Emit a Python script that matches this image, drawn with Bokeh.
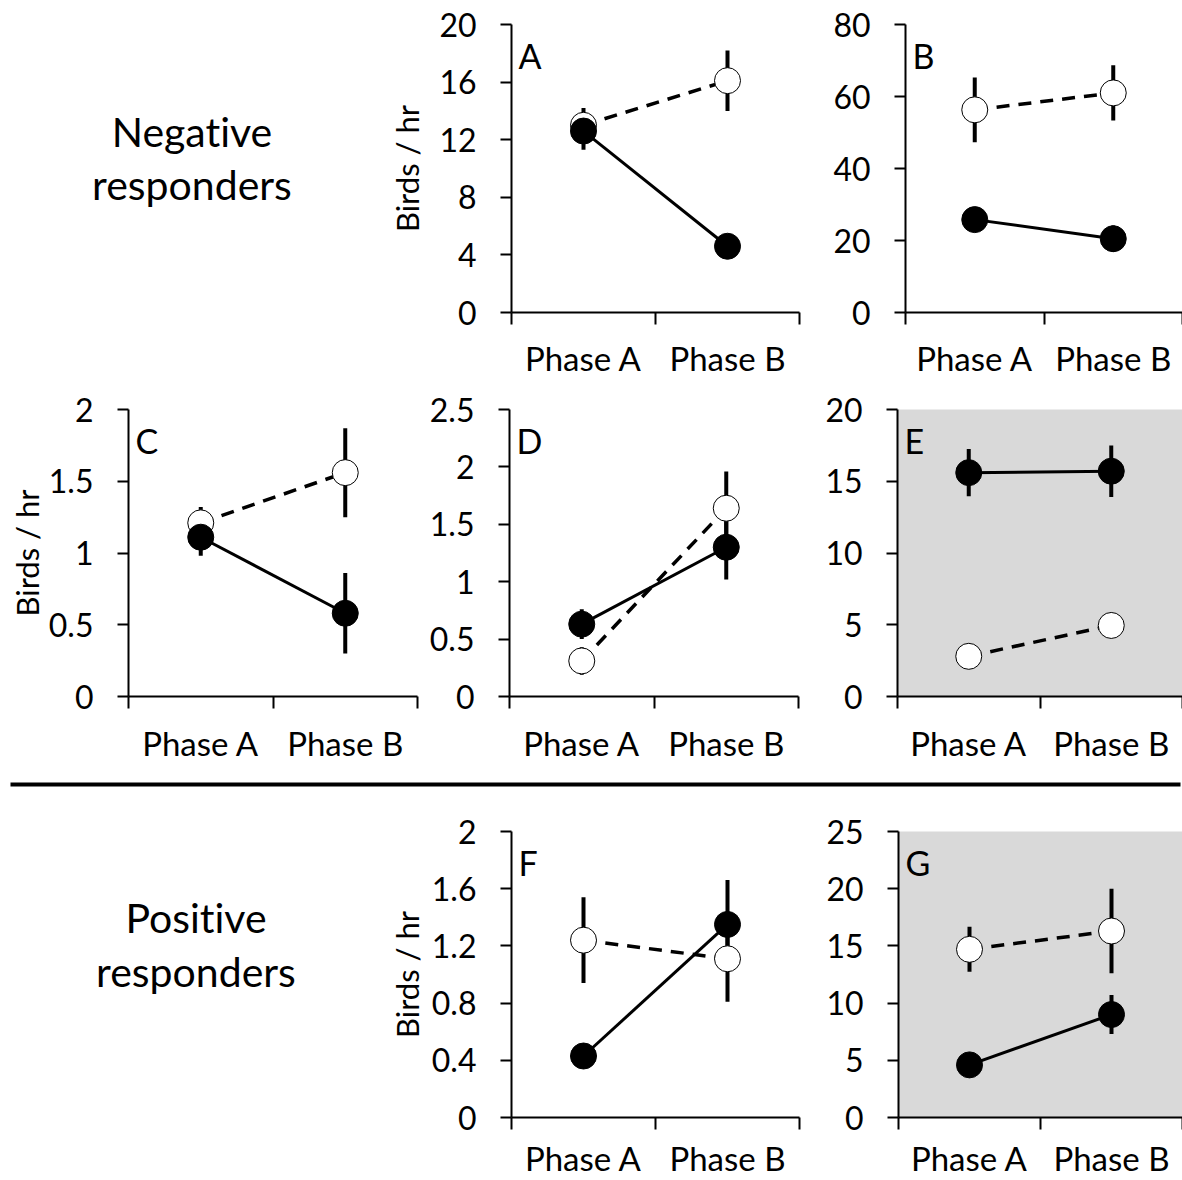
from bokeh.plotting import figure
from bokeh.layouts import column, row
from bokeh.models import (Range1d, FixedTicker, NumeralTickFormatter, Label,
                          BoxAnnotation, ColumnDataSource, Div)
from bokeh.embed import file_html
from bokeh.resources import INLINE

FONT = "Lato"

# ---------------- data ----------------
phases = ["Phase A", "Phase B"]
phase_x = [0.5, 1.5]

A_ticks = [0, 4, 8, 12, 16, 20]
A_solid = [12.6, 4.6]
A_solid_err = [1.3, 0.6]
A_open = [13.0, 16.1]
A_open_err = [1.2, 2.1]

B_ticks = [0, 20, 40, 60, 80]
B_solid = [25.8, 20.5]
B_solid_err = [1.5, 3.7]
B_open = [56.3, 61.0]
B_open_err = [9.0, 7.7]

C_ticks = [0, 0.5, 1, 1.5, 2]
C_solid = [1.11, 0.58]
C_solid_err = [0.13, 0.28]
C_open = [1.21, 1.56]
C_open_err = [0.11, 0.31]

D_ticks = [0, 0.5, 1, 1.5, 2, 2.5]
D_solid = [0.63, 1.30]
D_solid_err = [0.13, 0.28]
D_open = [0.31, 1.64]
D_open_err = [0.12, 0.32]

E_ticks = [0, 5, 10, 15, 20]
E_solid = [15.6, 15.7]
E_solid_err = [1.65, 1.8]
E_open = [2.8, 4.95]
E_open_err = [0.5, 0.87]

F_ticks = [0, 0.4, 0.8, 1.2, 1.6, 2]
F_solid = [0.43, 1.35]
F_solid_err = [0.08, 0.31]
F_open = [1.24, 1.11]
F_open_err = [0.3, 0.3]

G_ticks = [0, 5, 10, 15, 20, 25]
G_solid = [4.6, 9.0]
G_solid_err = [0.8, 1.7]
G_open = [14.7, 16.3]
G_open_err = [1.97, 3.7]

ylabel = "Birds / hr"
group_neg = ["Negative", "responders"]
group_pos = ["Positive", "responders"]


def panel(letter, ticks, solid, solid_err, opn, opn_err, width, height,
          bl, br, bt, bb, xstand, show_ylabel=False, ylabel_standoff=0, gray=False):
    p = figure(width=width, height=height, min_border_left=bl, min_border_right=br,
               min_border_top=bt, min_border_bottom=bb,
               x_range=Range1d(0, 2), y_range=Range1d(0, ticks[-1]),
               output_backend="svg", toolbar_location=None, tools="")
    p.xgrid.visible = False
    p.ygrid.visible = False
    p.outline_line_color = None
    p.background_fill_color = "#d9d9d9" if gray else "white"
    p.border_fill_color = "white"

    xa = p.xaxis[0]
    xa.ticker = FixedTicker(ticks=phase_x, minor_ticks=[0, 1, 2])
    xa.major_label_overrides = {phase_x[0]: phases[0], phase_x[1]: phases[1]}
    xa.axis_line_width = 2
    xa.axis_line_color = "black"
    xa.major_tick_out = 0
    xa.major_tick_in = 0
    xa.minor_tick_out = 12
    xa.minor_tick_in = 0
    xa.minor_tick_line_width = 2
    xa.minor_tick_line_color = "black"
    xa.major_label_standoff = xstand
    xa.major_label_text_font = FONT
    xa.major_label_text_font_size = "33px"
    xa.major_label_text_color = "black"

    ya = p.yaxis[0]
    ya.ticker = FixedTicker(ticks=ticks, minor_ticks=[])
    ya.formatter = NumeralTickFormatter(format="0.[0]")
    ya.axis_line_width = 2
    ya.axis_line_color = "black"
    ya.major_tick_out = 11
    ya.major_tick_in = 0
    ya.major_tick_line_width = 2
    ya.major_tick_line_color = "black"
    ya.minor_tick_out = 0
    ya.minor_tick_in = 0
    ya.major_label_standoff = 24
    ya.major_label_text_font = FONT
    ya.major_label_text_font_size = "32px"
    ya.major_label_text_color = "black"
    if show_ylabel:
        ya.axis_label = ylabel
        ya.axis_label_text_font = FONT
        ya.axis_label_text_font_size = "31px"
        ya.axis_label_text_font_style = "normal"
        ya.axis_label_text_color = "black"
        ya.axis_label_standoff = ylabel_standoff

    so = ColumnDataSource(dict(x=phase_x, y=opn,
                               lo=[v - e for v, e in zip(opn, opn_err)],
                               hi=[v + e for v, e in zip(opn, opn_err)]))
    ss = ColumnDataSource(dict(x=phase_x, y=solid,
                               lo=[v - e for v, e in zip(solid, solid_err)],
                               hi=[v + e for v, e in zip(solid, solid_err)]))
    for s in (so, ss):
        p.segment(x0="x", y0="lo", x1="x", y1="hi", source=s, line_width=4,
                  line_color="black")
    p.line("x", "y", source=so, line_width=3.5, line_dash="13 9", line_color="black")
    p.line("x", "y", source=ss, line_width=3, line_color="black")
    p.scatter("x", "y", source=so, size=26, fill_color="white",
              line_color="black", line_width=1)
    p.scatter("x", "y", source=ss, size=26, fill_color="black",
              line_color="black", line_width=1)

    p.add_layout(Label(x=0, y=ticks[-1], x_offset=7, y_offset=-10, text=letter,
                       text_baseline="top", text_align="left",
                       text_font=FONT, text_font_size="34px",
                       text_color="black"))
    return p


def text_cell(lines, width, height, shift, pad_top, line_h):
    html = (f'<div style="margin:0;padding:{pad_top}px 0 0 {shift}px;'
            f'width:{width}px;text-align:center;font-family:{FONT};'
            f'font-variant-ligatures:none;'
            f'font-size:41px;line-height:{line_h}px;color:black;">'
            + "<br>".join(lines) + "</div>")
    return Div(text=html, width=width, height=height, margin=0)


# row 0
t0 = text_cell(group_neg, 380, 380, 4, 105, 53)
pA = panel("A", A_ticks, A_solid, A_solid_err, A_open, A_open_err,
           450, 380, 131, 31, 24, 67, 13, show_ylabel=True, ylabel_standoff=10)
pB = panel("B", B_ticks, B_solid, B_solid_err, B_open, B_open_err,
           352, 380, 66, 0, 24, 67, 13)

# row 1
pC = panel("C", C_ticks, C_solid, C_solid_err, C_open, C_open_err,
           420, 385, 128, 3, 29, 68, 14, show_ylabel=True, ylabel_standoff=0)
pD = panel("D", D_ticks, D_solid, D_solid_err, D_open, D_open_err,
           400, 385, 89, 22, 29, 68, 14)
pE = panel("E", E_ticks, E_solid, E_solid_err, E_open, E_open_err,
           362, 385, 77, 0, 29, 68, 14, gray=True)

# separator
sep = figure(width=1182, height=40, min_border=0,
             x_range=Range1d(0, 1182), y_range=Range1d(40, 0),
             x_axis_location=None, y_axis_location=None,
             output_backend="svg", toolbar_location=None, tools="")
sep.grid.visible = False
sep.outline_line_color = None
sep.add_layout(BoxAnnotation(left=10, right=1180, top=17, bottom=21,
                             fill_color="black", fill_alpha=1, line_color=None))

# row 2
t2 = text_cell(group_pos, 380, 375, 12, 86, 54)
pF = panel("F", F_ticks, F_solid, F_solid_err, F_open, F_open_err,
           440, 375, 131, 21, 26, 62, 8, show_ylabel=True, ylabel_standoff=3)
pG = panel("G", G_ticks, G_solid, G_solid_err, G_open, G_open_err,
           362, 375, 78, 0, 26, 62, 8, gray=True)

layout = column(row(t0, pA, pB), row(pC, pD, pE), sep, row(t2, pF, pG))

open("out.html", "w").write(file_html(layout, INLINE))
